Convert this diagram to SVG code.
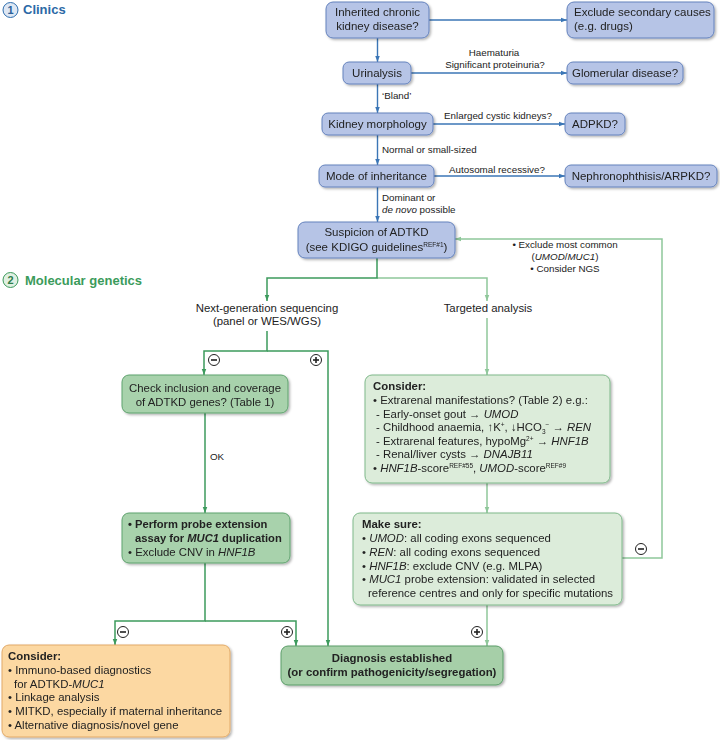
<svg xmlns="http://www.w3.org/2000/svg" width="720" height="740" viewBox="0 0 720 740">
<style>
text{font-family:"Liberation Sans",Arial,sans-serif;fill:#222}
.bt{font-size:11.5px;text-anchor:middle}
.btl{font-size:11.5px}
.lb{font-size:9.8px}
.lbc{font-size:9.8px;text-anchor:middle}
.gt{font-size:11.4px}
.gtc{font-size:11.4px;text-anchor:middle}
.b{font-weight:bold}
.i{font-style:italic}
.sup{font-size:6.5px}
.hdr{font-size:13px;font-weight:bold}
.blue{fill:#b6c4e6;stroke:#6482bd;stroke-width:1}
.gmid{fill:#a8d2ac;stroke:#5fa36e;stroke-width:1}
.glt{fill:#dcecda;stroke:#7fb98a;stroke-width:1}
.gdx{fill:#a6cfa8;stroke:#5a9d68;stroke-width:1}
.org{fill:#fcd8a2;stroke:#e2aa68;stroke-width:1}
.cb{fill:none;stroke:#3b76b6;stroke-width:1.4}
.cg{fill:none;stroke:#3c9a5c;stroke-width:1.5}
.cl{fill:none;stroke:#8fc79a;stroke-width:1.5}
.pm{fill:#fff;stroke:#222;stroke-width:1}
.pml{stroke:#222;stroke-width:1.6}
</style>
<defs>
<filter id="sh" x="-10%" y="-10%" width="120%" height="130%"><feDropShadow dx="1.5" dy="1.5" stdDeviation="0.8" flood-color="#000" flood-opacity="0.3"/></filter>
<marker id="ab" viewBox="0 0 8 8" refX="8" refY="4" markerWidth="6" markerHeight="6" orient="auto" markerUnits="userSpaceOnUse"><path d="M0,1 L8,4 L0,7 z" fill="#3b76b6"/></marker>
<marker id="ag" viewBox="0 0 8 8" refX="8" refY="4" markerWidth="6" markerHeight="6" orient="auto" markerUnits="userSpaceOnUse"><path d="M0,1 L8,4 L0,7 z" fill="#3c9a5c"/></marker>
<marker id="al" viewBox="0 0 8 8" refX="8" refY="4" markerWidth="6" markerHeight="6" orient="auto" markerUnits="userSpaceOnUse"><path d="M0,1 L8,4 L0,7 z" fill="#8fc79a"/></marker>
<g id="minus"><circle r="5.5" class="pm"/><line x1="-3" y1="0" x2="3" y2="0" class="pml"/></g>
<g id="plus"><circle r="5.5" class="pm"/><line x1="-3" y1="0" x2="3" y2="0" class="pml"/><line x1="0" y1="-3" x2="0" y2="3" class="pml"/></g>
</defs>
<rect width="720" height="740" fill="#fff"/>

<!-- headers -->
<g id="hdr1">
<circle cx="10.5" cy="10" r="7.5" fill="#dde7f4" stroke="#2e6eae" stroke-width="1"/>
<text x="10.5" y="14" text-anchor="middle" style="font-size:11px;font-weight:bold;fill:#2a5f99">1</text>
<text x="23" y="14" class="hdr" style="fill:#2b69a6">Clinics</text>
</g>
<g id="hdr2">
<circle cx="10.5" cy="280" r="7.5" fill="#e0f0e2" stroke="#3c9a5c" stroke-width="1"/>
<text x="10.5" y="284" text-anchor="middle" style="font-size:11px;font-weight:bold;fill:#2e7d48">2</text>
<text x="25" y="284.5" class="hdr" style="fill:#3b9b5b">Molecular genetics</text>
</g>

<!-- connectors -->
<g id="connectors">
<path class="cb" d="M377.5,38 V62" marker-end="url(#ab)"/>
<path class="cb" d="M377.5,84 V113" marker-end="url(#ab)"/>
<path class="cb" d="M377.5,135 V165" marker-end="url(#ab)"/>
<path class="cb" d="M377.5,187 V222" marker-end="url(#ab)"/>
<path class="cb" d="M429,20 H567" marker-end="url(#ab)"/>
<path class="cb" d="M411,73 H567" marker-end="url(#ab)"/>
<path class="cb" d="M433,124 H565" marker-end="url(#ab)"/>
<path class="cb" d="M434,176 H565" marker-end="url(#ab)"/>

<path class="cl" d="M377,278 H487 V301" marker-end="url(#al)"/>
<path class="cg" d="M377,258 V278 H267 V301" marker-end="url(#ag)"/>
<path class="cl" d="M622,558 H662 V239 H455" marker-end="url(#al)"/>

<path class="cg" d="M267,331 V351 H204 V375" marker-end="url(#ag)"/>
<path class="cg" d="M267,351 H328 V646" marker-end="url(#ag)"/>
<path class="cg" d="M205,413 V513" marker-end="url(#ag)"/>
<path class="cg" d="M205,563 V621 H115 V645" marker-end="url(#ag)"/>
<path class="cg" d="M205,621 H296 V646" marker-end="url(#ag)"/>

<path class="cl" d="M487,318 V375" marker-end="url(#al)"/>
<path class="cl" d="M487,483 V513" marker-end="url(#al)"/>
<path class="cl" d="M487,605 V646" marker-end="url(#al)"/>

<use href="#minus" x="214" y="360"/>
<use href="#plus" x="316" y="360"/>
<use href="#minus" x="123" y="632"/>
<use href="#plus" x="287" y="632"/>
<use href="#plus" x="477" y="632"/>
<use href="#minus" x="641" y="549"/>

<text x="494" y="56" class="lbc">Haematuria</text>
<text x="495" y="68" class="lbc">Significant proteinuria?</text>
<text x="382" y="99" class="lb">‘Bland’</text>
<text x="498" y="119" class="lbc">Enlarged cystic kidneys?</text>
<text x="382" y="153" class="lb">Normal or small-sized</text>
<text x="497" y="173" class="lbc">Autosomal recessive?</text>
<text x="382" y="201" class="lb">Dominant or</text>
<text x="382" y="213" class="lb"><tspan class="i">de novo</tspan> possible</text>
<text x="565" y="248" class="lbc">• Exclude most common</text>
<text x="565" y="260" class="lbc">(<tspan class="i">UMOD</tspan>/<tspan class="i">MUC1</tspan>)</text>
<text x="565" y="272" class="lbc">• Consider NGS</text>
<text x="267" y="312" class="gtc">Next-generation sequencing</text>
<text x="267" y="325" class="gtc">(panel or WES/WGS)</text>
<text x="488" y="312" class="gtc">Targeted analysis</text>
<text x="210" y="460" class="lb">OK</text>
</g>

<!-- clinics nodes -->
<g id="n-inherited" filter="url(#sh)">
<rect x="326" y="2" width="103" height="36" rx="7" class="blue"/>
<text x="377.5" y="16" class="bt">Inherited chronic</text>
<text x="377.5" y="30" class="bt">kidney disease?</text>
</g>
<g id="n-exclude" filter="url(#sh)">
<rect x="567" y="2" width="147" height="36" rx="7" class="blue"/>
<text x="574" y="16" class="btl">Exclude secondary causes</text>
<text x="574" y="30" class="btl">(e.g. drugs)</text>
</g>
<g id="n-urinalysis" filter="url(#sh)">
<rect x="343" y="62" width="68" height="22" rx="6" class="blue"/>
<text x="377" y="77" class="bt">Urinalysis</text>
</g>
<g id="n-glomerular" filter="url(#sh)">
<rect x="567" y="62" width="116" height="22" rx="6" class="blue"/>
<text x="625" y="77" class="bt">Glomerular disease?</text>
</g>
<g id="n-morphology" filter="url(#sh)">
<rect x="322" y="113" width="111" height="22" rx="6" class="blue"/>
<text x="377.5" y="128" class="bt">Kidney morphology</text>
</g>
<g id="n-adpkd" filter="url(#sh)">
<rect x="565" y="113" width="60" height="22" rx="6" class="blue"/>
<text x="595" y="128" class="bt">ADPKD?</text>
</g>
<g id="n-inheritance" filter="url(#sh)">
<rect x="319" y="165" width="115" height="22" rx="6" class="blue"/>
<text x="376.5" y="180" class="bt">Mode of inheritance</text>
</g>
<g id="n-nephro" filter="url(#sh)">
<rect x="565" y="165" width="152" height="22" rx="6" class="blue"/>
<text x="641" y="180" class="bt">Nephronophthisis/ARPKD?</text>
</g>
<g id="n-suspicion" filter="url(#sh)">
<rect x="298" y="222" width="157" height="36" rx="7" class="blue"/>
<text x="376.5" y="236" class="bt">Suspicion of ADTKD</text>
<text x="376.5" y="251" class="bt">(see KDIGO guidelines<tspan class="sup" dy="-4.5">REF#1</tspan><tspan dy="4.5">)</tspan></text>
</g>

<!-- molecular genetics nodes -->
<g id="n-check" filter="url(#sh)">
<rect x="122" y="375" width="166" height="38" rx="7" class="gmid"/>
<text x="205" y="392" class="gtc">Check inclusion and coverage</text>
<text x="205" y="406" class="gtc">of ADTKD genes? (Table 1)</text>
</g>
<g id="n-perform" filter="url(#sh)">
<rect x="122" y="513" width="168" height="50" rx="7" class="gmid"/>
<text x="128" y="528" class="gt b" style="font-size:11.2px">• Perform probe extension</text>
<text x="135" y="542" class="gt b" style="font-size:11.2px">assay for <tspan class="i">MUC1</tspan> duplication</text>
<text x="128" y="556" class="gt">• Exclude CNV in <tspan class="i">HNF1B</tspan></text>
</g>
<g id="n-consider-right" filter="url(#sh)">
<rect x="365" y="375" width="245" height="108" rx="7" class="glt"/>
<text x="373" y="390" class="gt b">Consider:</text>
<text x="373" y="404" class="gt">• Extrarenal manifestations? (Table 2) e.g.:</text>
<text x="376" y="417.5" class="gt">- Early-onset gout → <tspan class="i">UMOD</tspan></text>
<text x="376" y="431" class="gt">- Childhood anaemia,  ↑K<tspan class="sup" dy="-4">+</tspan><tspan dy="4">,  ↓HCO</tspan><tspan class="sup" dy="3">3</tspan><tspan class="sup" dy="-7">−</tspan><tspan dy="4"> → </tspan><tspan class="i">REN</tspan></text>
<text x="376" y="444.5" class="gt">- Extrarenal features, hypoMg<tspan class="sup" dy="-4">2+</tspan><tspan dy="4"> → </tspan><tspan class="i">HNF1B</tspan></text>
<text x="376" y="458" class="gt">- Renal/liver cysts → <tspan class="i">DNAJB11</tspan></text>
<text x="373" y="471.5" class="gt">• <tspan class="i">HNF1B</tspan>-score<tspan class="sup" dy="-4">REF#55</tspan><tspan dy="4">, </tspan><tspan class="i">UMOD</tspan>-score<tspan class="sup" dy="-4">REF#9</tspan></text>
</g>
<g id="n-makesure" filter="url(#sh)">
<rect x="353" y="513" width="269" height="92" rx="7" class="glt"/>
<text x="362" y="528" class="gt b">Make sure:</text>
<text x="362" y="542" class="gt">• <tspan class="i">UMOD</tspan>: all coding exons sequenced</text>
<text x="362" y="556" class="gt">• <tspan class="i">REN</tspan>: all coding exons sequenced</text>
<text x="362" y="569.5" class="gt">• <tspan class="i">HNF1B</tspan>: exclude CNV (e.g. MLPA)</text>
<text x="362" y="583" class="gt">• <tspan class="i">MUC1</tspan> probe extension: validated in selected</text>
<text x="368" y="596.5" class="gt">reference centres and only for specific mutations</text>
</g>
<g id="n-consider-left" filter="url(#sh)">
<rect x="2" y="645" width="228" height="92" rx="7" class="org"/>
<text x="8" y="660" class="gt b">Consider:</text>
<text x="8" y="674" class="gt">• Immuno-based diagnostics</text>
<text x="14" y="687.5" class="gt">for ADTKD-<tspan class="i">MUC1</tspan></text>
<text x="8" y="701" class="gt">• Linkage analysis</text>
<text x="8" y="715" class="gt">• MITKD, especially if maternal inheritance</text>
<text x="8" y="728.5" class="gt">• Alternative diagnosis/novel gene</text>
</g>
<g id="n-diagnosis" filter="url(#sh)">
<rect x="281" y="646" width="222" height="39" rx="7" class="gdx"/>
<text x="392" y="662" class="gtc b">Diagnosis established</text>
<text x="392" y="676" class="gtc b">(or confirm pathogenicity/segregation)</text>
</g>
</svg>
